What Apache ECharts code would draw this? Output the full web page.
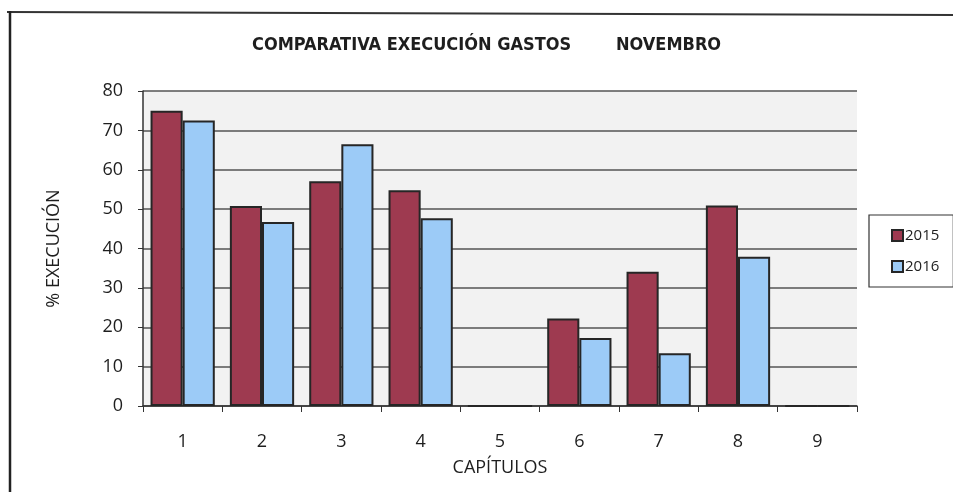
<!DOCTYPE html>
<html>
<head>
<meta charset="utf-8">
<script src="https://cdn.jsdelivr.net/npm/echarts@6/dist/echarts.min.js"></script>
<style>html,body{margin:0;padding:0;background:#fff;}#c{width:953px;height:492px;}</style>
</head>
<body>
<div id="c"></div>
<script>
const categories = ['1','2','3','4','5','6','7','8','9'];
const values2015 = [75, 50.8, 57.1, 54.8, 0, 22.2, 34.1, 50.9, 0];
const values2016 = [72.5, 46.7, 66.5, 47.7, 0, 17.3, 13.4, 37.9, 0];
const seriesNames = ['2015', '2016'];

const chart = echarts.init(document.getElementById('c'));
const txt = '#1e1e1e';
const condensed = "'DejaVu Sans Condensed', 'Open Sans', sans-serif";
chart.setOption({
  backgroundColor: '#fff',
  animation: false,
  title: [
    { text: 'COMPARATIVA EXECUCIÓN GASTOS', left: 247, top: 31,
      textStyle: { fontFamily: condensed, fontWeight: 'bold', fontSize: 18, color: txt } },
    { text: 'NOVEMBRO', left: 611, top: 31,
      textStyle: { fontFamily: condensed, fontWeight: 'bold', fontSize: 18, color: txt } }
  ],
  legend: {
    orient: 'vertical', left: 869, top: 215,
    padding: [13, 14, 13, 22], itemGap: 16,
    itemWidth: 11, itemHeight: 11, icon: 'rect',
    borderColor: '#333', borderWidth: 1.2, backgroundColor: '#fff',
    textStyle: { fontFamily: 'Open Sans', fontSize: 15, color: txt, padding: [0, 0, 0, -3] },
    data: seriesNames
  },
  grid: { left: 143, right: 96, top: 91, bottom: 86, show: true,
    backgroundColor: '#f2f2f2', borderWidth: 0 },
  xAxis: {
    type: 'category', data: categories,
    name: 'CAPÍTULOS', nameLocation: 'middle', nameGap: 53,
    nameTextStyle: { fontFamily: 'Open Sans', fontSize: 18, color: txt },
    axisLine: { lineStyle: { color: '#333', width: 1.5 } },
    axisTick: { show: true, length: 6, lineStyle: { color: '#333' } },
    axisLabel: { fontFamily: 'Open Sans', fontSize: 18, color: txt, margin: 27 }
  },
  yAxis: {
    type: 'value', min: 0, max: 80, interval: 10,
    name: '% EXECUCIÓN', nameLocation: 'middle', nameGap: 80,
    nameTextStyle: { fontFamily: 'Open Sans', fontSize: 18, color: txt },
    axisLine: { show: true, lineStyle: { color: '#333', width: 1.5 } },
    axisTick: { show: true, length: 5, lineStyle: { color: '#333' } },
    axisLabel: { fontFamily: 'Open Sans', fontSize: 18, color: txt, margin: 20 },
    splitLine: { lineStyle: { color: '#555', width: 1.5 } }
  },
  series: [
    { name: seriesNames[0], type: 'bar', data: values2015, barGap: '0%', barCategoryGap: '19%',
      itemStyle: { color: '#9e3a50', borderColor: '#262626', borderWidth: 2 } },
    { name: seriesNames[1], type: 'bar', data: values2016, barGap: '0%', barCategoryGap: '19%',
      itemStyle: { color: '#9ccbf7', borderColor: '#262626', borderWidth: 2 } }
  ],
  graphic: [
    { type: 'line', shape: { x1: 7, y1: 12, x2: 953, y2: 15 }, style: { stroke: '#333', lineWidth: 2 } },
    { type: 'line', shape: { x1: 10, y1: 11, x2: 10, y2: 492 }, style: { stroke: '#222', lineWidth: 2.5 } }
  ]
});
</script>
</body>
</html>
